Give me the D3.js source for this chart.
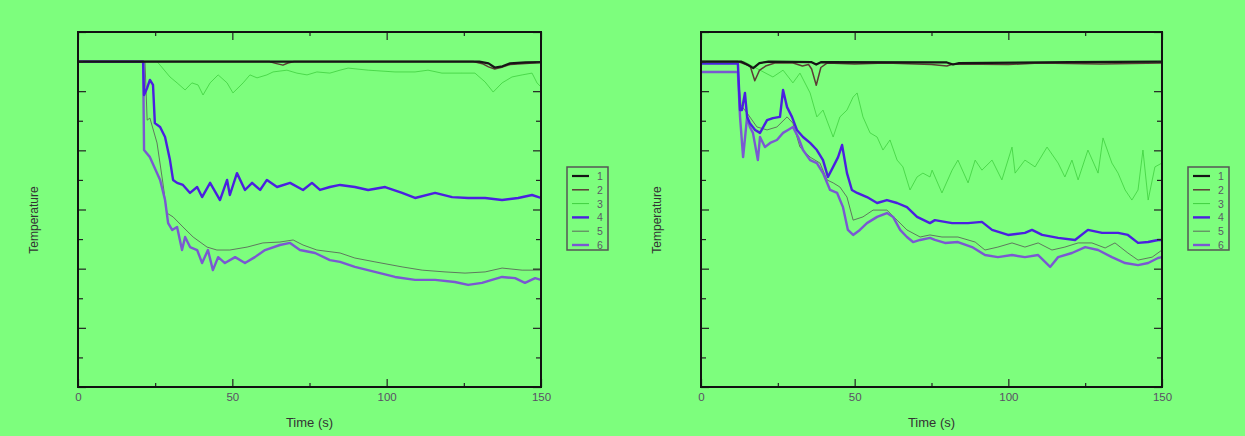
<!DOCTYPE html>
<html>
<head>
<meta charset="utf-8">
<script src="https://cdn.jsdelivr.net/npm/d3@7"></script>
<style>
  html, body { margin: 0; padding: 0; background: #7dfe7d; }
  svg { display: block; }
  text { font-family: "Liberation Sans", Arial, sans-serif; }
</style>
</head>
<body>
<svg id="chart" width="1245" height="436"></svg>
<script>
// Thermocouple readings, [time (s), temperature] pairs, six channels per test.
const seriesNames = ["1", "2", "3", "4", "5", "6"];
const timeTicks = [0, 50, 100, 150];
const timeMinor = [25, 75, 125];
const tempMajor = [0, 200, 400, 600, 800, 1000, 1200];
const tempMinor = [100, 300, 500, 700, 900, 1100];

// Test A
const left1 = [[0,1100],[130,1100],[133,1094],[135,1080],[137.5,1084],[140,1094],[145,1097],[150,1098]];
const left2 = [[0,1100],[62,1100],[64,1094],[66.4,1088],[68,1095],[70,1100],[128,1100],[131,1093],[133,1082],[135,1075],[137,1080],[140,1090],[150,1097]];
const left3 = [[0,1100],[25.6,1100],[26.6,1088],[29.8,1048],[32.1,1028],[34.7,1004],[36.9,1028],[38.9,1021],[40.5,987],[42.8,1028],[45.4,1055],[48.3,1028],[50.2,994],[53.5,1028],[55.7,1055],[58,1045],[61.2,1055],[63.2,1065],[67.7,1071],[70.9,1061],[74.2,1055],[77.4,1065],[81.6,1061],[84.9,1071],[87.5,1078],[94,1071],[102.7,1065],[109.2,1065],[113.4,1071],[117.9,1061],[124.4,1061],[128.6,1061],[131.9,1031],[134.5,997],[137.4,1028],[140.6,1048],[143.9,1055],[147.1,1061],[148.7,1028],[150,1014]];
const left4 = [[0,1100],[21.1,1100],[21.4,987],[22.4,1011],[23.3,1038],[24.3,1021],[24.9,892],[26.6,879],[28.2,845],[29.8,767],[30.8,700],[32.1,690],[34,683],[36.3,656],[38.6,676],[40.2,642],[42.8,690],[46,632],[48.3,700],[49.2,649],[51.5,723],[54.1,666],[56.4,690],[59,666],[61.2,700],[64.5,676],[68.7,690],[72.9,666],[75.8,690],[78.4,666],[81.6,676],[84.9,683],[89.7,676],[94,666],[99.5,676],[105,656],[109.2,639],[115.7,656],[121.2,642],[126.4,639],[131.9,639],[137.4,632],[142.6,639],[147.1,649],[150,639]];
const left5 = [[0,1100],[21.7,1100],[22.4,902],[23.3,909],[25.6,825],[27.5,690],[28.8,588],[30.8,575],[34,541],[37.3,507],[41.8,473],[45,463],[49.2,463],[54.8,473],[59.9,487],[65.4,490],[69.7,497],[72.9,480],[77.4,463],[84.9,453],[89.7,436],[96.2,423],[105,406],[111.5,395],[118.9,389],[125.4,385],[131.9,389],[137.4,402],[143.9,395],[150,395]];
const left6 = [[0,1100],[21.1,1100],[21.4,801],[23.3,777],[26.6,700],[28.2,632],[29.2,554],[30.5,531],[32.1,541],[33.7,463],[34.7,507],[36.3,473],[38.6,463],[40.2,419],[42.1,463],[43.7,395],[45.4,439],[47.6,419],[50.9,439],[54.1,419],[57.3,439],[60.6,463],[65.4,480],[68.7,487],[71.9,463],[76.8,453],[81.6,429],[84.9,423],[89.7,406],[96.2,389],[102.7,372],[109.2,362],[115.7,362],[122.1,355],[126.4,345],[130.9,352],[134.1,362],[137.4,372],[141.6,368],[144.8,352],[148.1,368],[150,362]];

// Test B
const right1 = [[0,1100],[13,1100],[15,1090],[17,1078],[19,1095],[22,1100],[36,1098],[37.5,1090],[39,1098],[80,1097],[82,1090],[84,1095],[120,1098],[150,1100]];
const right2 = [[0,1100],[12,1100],[16,1085],[17.5,1035],[19,1070],[21,1085],[24,1095],[30,1095],[33,1085],[35,1090],[36,1075],[37.5,1020],[39,1080],[41,1095],[50,1092],[60,1095],[75,1090],[80,1085],[82,1092],[100,1090],[110,1095],[130,1092],[150,1095]];
const right3 = [[0,1100],[14,1100],[19.2,1071],[23.4,1048],[26.7,1071],[29.9,1028],[32.2,1061],[35.5,994],[37.7,913],[39.7,936],[43,845],[45.2,913],[47.5,936],[49.5,980],[50.8,994],[52.7,913],[55,859],[57.3,845],[59.2,801],[61.5,835],[63.8,767],[65.7,744],[68,666],[70.3,710],[72.2,723],[74.5,710],[75.2,733],[78.4,656],[81.7,733],[83.6,767],[86.9,690],[89.2,767],[91.4,733],[94.7,767],[97.9,700],[101.2,811],[102.2,723],[105.4,767],[108.7,744],[112.6,811],[116.2,757],[118.4,710],[120.7,767],[122.7,700],[125.9,801],[129.2,723],[130.8,842],[133.7,757],[135.7,723],[138,666],[140.2,632],[142.2,666],[143.8,801],[145.5,632],[147.7,744],[150,757]];
const right4 = [[0,1093],[12,1093],[12.7,936],[13.3,936],[14.3,994],[15,913],[15.9,892],[17.6,869],[19.2,859],[21.5,902],[23.4,909],[25.7,913],[26.7,1004],[28,946],[29.6,913],[31.2,869],[33.2,845],[35.5,825],[37.7,801],[39.7,767],[41.3,710],[43,744],[44.6,777],[45.9,818],[47.5,723],[49.1,666],[50.8,656],[54,642],[57.3,622],[60.5,632],[63.8,622],[67,608],[70.3,575],[74.5,554],[76.1,564],[81.7,554],[86.9,554],[91.4,558],[94.7,531],[99.9,514],[105.4,521],[107.7,531],[111,514],[116.2,504],[121.7,497],[125.9,531],[130.5,521],[135.7,521],[138.9,514],[142.2,487],[145.5,490],[148.7,497],[150,497]];
const right5 = [[0,1065],[12,1065],[13,953],[15,926],[18.2,879],[21.5,869],[24.7,879],[28,913],[29.9,892],[32.2,811],[35.5,777],[38.7,757],[41,700],[43,690],[45.2,676],[47.5,642],[49.5,564],[52.7,575],[56,598],[60.5,598],[63.8,564],[67,531],[71.3,507],[74.5,514],[78.4,507],[83.6,507],[89.2,490],[92.4,463],[96.6,473],[101.2,487],[105.4,473],[109.7,487],[114.2,463],[118.4,473],[122.7,487],[127.2,487],[131.5,470],[134.7,487],[138.9,453],[142.2,429],[146.8,439],[150,463]];
const right6 = [[0,1065],[12,1065],[12.7,913],[13.7,777],[15,913],[15.9,879],[16.9,859],[18.5,767],[19.2,845],[20.8,811],[22.5,825],[24.7,835],[26.7,859],[28.3,869],[29.9,879],[31.6,845],[33.2,801],[35.5,767],[37.7,757],[39.7,723],[42,666],[44.3,656],[46.2,608],[47.8,531],[49.5,514],[51.7,531],[54,554],[57.3,575],[60.5,588],[62.5,575],[64.8,531],[67,507],[69,490],[71.3,497],[74.5,504],[76.1,497],[79.4,487],[83.6,490],[88.2,473],[92.4,446],[96.6,439],[101.2,446],[105.4,439],[109.7,446],[113.6,406],[116.2,439],[120.7,453],[125,473],[129.2,463],[133.7,439],[138,419],[142.2,412],[145.5,419],[148.7,436],[150,439]];

const lineStyles = [
  { color: "#151515", width: 2.2 },
  { color: "#5c3c36", width: 1.5 },
  { color: "#3fcf3f", width: 0.8 },
  { color: "#4a20e0", width: 2.4 },
  { color: "#5a6a5a", width: 0.9 },
  { color: "#7a58d2", width: 2.4 }
];
const drawOrder = [2, 4, 5, 3, 1, 0];

const svg = d3.select("#chart");
svg.append("rect").attr("width", 1245).attr("height", 436).attr("fill", "#7dfe7d");

function drawPanel(id, x0, x1, data, legendX, yLabelX) {
  const top = 32, bottom = 387;
  const x = d3.scaleLinear().domain([0, 150]).range([x0, x1]);
  const y = d3.scaleLinear().domain([0, 1200]).range([bottom, top]);
  const g = svg.append("g");

  g.append("clipPath").attr("id", "clip" + id)
    .append("rect").attr("x", x0).attr("y", top).attr("width", x1 - x0).attr("height", bottom - top);

  const line = d3.line().x(d => x(d[0])).y(d => y(d[1]));
  const lines = g.append("g").attr("clip-path", `url(#clip${id})`);
  drawOrder.forEach(i => {
    lines.append("path").datum(data[i])
      .attr("fill", "none")
      .attr("stroke", lineStyles[i].color)
      .attr("stroke-width", lineStyles[i].width)
      .attr("stroke-linejoin", "round")
      .attr("d", line);
  });

  const styleAxis = sel => {
    sel.select(".domain").remove();
    sel.selectAll(".tick line").attr("stroke", "#222").attr("stroke-width", 1.2);
    sel.selectAll(".tick text").attr("fill", "#5a4f66").attr("font-size", 11.5);
  };

  g.append("g").attr("transform", `translate(0,${bottom})`)
    .call(d3.axisBottom(x).tickValues(timeTicks).tickSize(-8).tickPadding(6).tickFormat(d3.format("d")))
    .call(styleAxis);
  g.append("g").attr("transform", `translate(0,${bottom})`)
    .call(d3.axisBottom(x).tickValues(timeMinor).tickSize(-4).tickFormat(""))
    .call(styleAxis);
  g.append("g").attr("transform", `translate(0,${top})`)
    .call(d3.axisTop(x).tickValues(timeTicks).tickSize(-8).tickFormat(""))
    .call(styleAxis);
  g.append("g").attr("transform", `translate(0,${top})`)
    .call(d3.axisTop(x).tickValues(timeMinor).tickSize(-4).tickFormat(""))
    .call(styleAxis);
  g.append("g").attr("transform", `translate(${x0},0)`)
    .call(d3.axisLeft(y).tickValues(tempMajor).tickSize(-8).tickFormat(""))
    .call(styleAxis);
  g.append("g").attr("transform", `translate(${x0},0)`)
    .call(d3.axisLeft(y).tickValues(tempMinor).tickSize(-5).tickFormat(""))
    .call(styleAxis);
  g.append("g").attr("transform", `translate(${x1},0)`)
    .call(d3.axisRight(y).tickValues(tempMajor).tickSize(-8).tickFormat(""))
    .call(styleAxis);
  g.append("g").attr("transform", `translate(${x1},0)`)
    .call(d3.axisRight(y).tickValues(tempMinor).tickSize(-5).tickFormat(""))
    .call(styleAxis);

  g.append("rect").attr("x", x0).attr("y", top).attr("width", x1 - x0).attr("height", bottom - top)
    .attr("fill", "none").attr("stroke", "#111").attr("stroke-width", 2);

  g.append("text").attr("x", (x0 + x1) / 2).attr("y", 427)
    .attr("text-anchor", "middle").attr("font-size", 13).attr("fill", "#333")
    .text("Time (s)");
  g.append("text").attr("transform", `translate(${yLabelX},220) rotate(-90)`)
    .attr("text-anchor", "middle").attr("font-size", 12).attr("fill", "#333")
    .text("Temperature");

  // legend
  const lg = g.append("g").attr("transform", `translate(${legendX},167)`);
  lg.append("rect").attr("width", 41).attr("height", 83)
    .attr("fill", "none").attr("stroke", "#555").attr("stroke-width", 1.5);
  seriesNames.forEach((name, i) => {
    const yy = 9 + i * 13.8;
    lg.append("line").attr("x1", 5).attr("x2", 22).attr("y1", yy).attr("y2", yy)
      .attr("stroke", lineStyles[i].color).attr("stroke-width", Math.max(lineStyles[i].width, 1));
    lg.append("text").attr("x", 30).attr("y", yy + 4).attr("font-size", 10.5).attr("fill", "#5a5a66")
      .text(name);
  });
}

drawPanel("A", 78, 541, [left1, left2, left3, left4, left5, left6], 567, 38);
drawPanel("B", 701, 1162, [right1, right2, right3, right4, right5, right6], 1188, 661);
</script>
</body>
</html>
